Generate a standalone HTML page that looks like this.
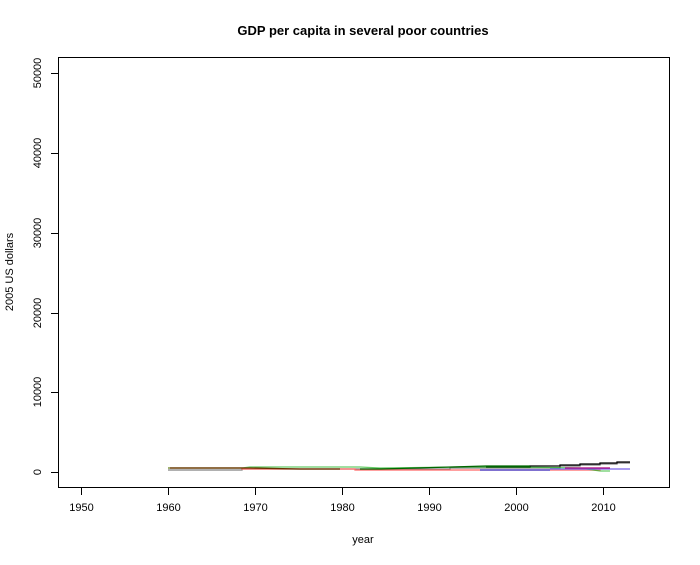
<!DOCTYPE html>
<html><head><style>body{margin:0;background:#fff}</style></head><body>
<svg width="700" height="560" xmlns="http://www.w3.org/2000/svg" font-family="Liberation Sans, Arial, sans-serif">
<rect width="700" height="560" fill="#fff"/>
<text x="363" y="35" text-anchor="middle" font-weight="bold" font-size="13">GDP per capita in several poor countries</text>
<rect x="58.5" y="57.5" width="611" height="430" fill="none" stroke="#000"/>
<g stroke="#000">
<line x1="81.5" y1="488" x2="81.5" y2="495"/><line x1="168.5" y1="488" x2="168.5" y2="495"/>
<line x1="255.5" y1="488" x2="255.5" y2="495"/><line x1="342.5" y1="488" x2="342.5" y2="495"/>
<line x1="429.5" y1="488" x2="429.5" y2="495"/><line x1="516.5" y1="488" x2="516.5" y2="495"/>
<line x1="603.5" y1="488" x2="603.5" y2="495"/>
<line x1="51" y1="472.5" x2="58" y2="472.5"/><line x1="51" y1="392.5" x2="58" y2="392.5"/>
<line x1="51" y1="313.5" x2="58" y2="313.5"/><line x1="51" y1="233.5" x2="58" y2="233.5"/>
<line x1="51" y1="153.5" x2="58" y2="153.5"/><line x1="51" y1="73.5" x2="58" y2="73.5"/>
</g>
<g font-size="11" text-anchor="middle">
<text x="81.5" y="511">1950</text><text x="168.5" y="511">1960</text><text x="255.5" y="511">1970</text>
<text x="342.5" y="511">1980</text><text x="429.5" y="511">1990</text><text x="516.5" y="511">2000</text>
<text x="603.5" y="511">2010</text>
</g>
<g font-size="11" text-anchor="middle">
<text transform="translate(41,472) rotate(-90)">0</text>
<text transform="translate(41,392) rotate(-90)">10000</text>
<text transform="translate(41,313) rotate(-90)">20000</text>
<text transform="translate(41,233) rotate(-90)">30000</text>
<text transform="translate(41,153) rotate(-90)">40000</text>
<text transform="translate(41,73) rotate(-90)">50000</text>
<text transform="translate(13,272) rotate(-90)">2005 US dollars</text>
</g>
<text x="363" y="543" text-anchor="middle" font-size="11">year</text>
<g fill="none" stroke-width="1.3">
<polyline stroke="#808080" points="168,470 242,470 242,469 350,469 350,469 450,469 450,468 560,468 560,466 580,466 580,465 600,465 600,464 617,464 617,463 630,463"/>
<polyline stroke="#000" points="486,467 530,467 530,466 560,466 560,465 580,465 580,464 600,464 600,463 617,463 617,462 630,462"/>
<polyline stroke="#ff6666" points="168,468 242,468 242,469 355,469 355,470 430,470 430,470 600,470 600,469 630,469"/>
<polyline stroke="#00aa00" opacity="0.6" points="168,468 242,468 250,467 360,467 380,468 460,467 520,467 580,468 600,471 610,471"/>
<polyline stroke="#663300" points="170,468 180,468 205,468 250,468 300,469 340,469"/>
<polyline stroke="#006600" points="360,469 380,469 486,466 530,466"/>
<polyline stroke="#3333cc" points="480,470 550,470"/>
<polyline stroke="#7777ff" points="550,469 630,469"/>
<polyline stroke="#aa0077" points="565,468 610,468"/>
</g>
</svg>
</body></html>
